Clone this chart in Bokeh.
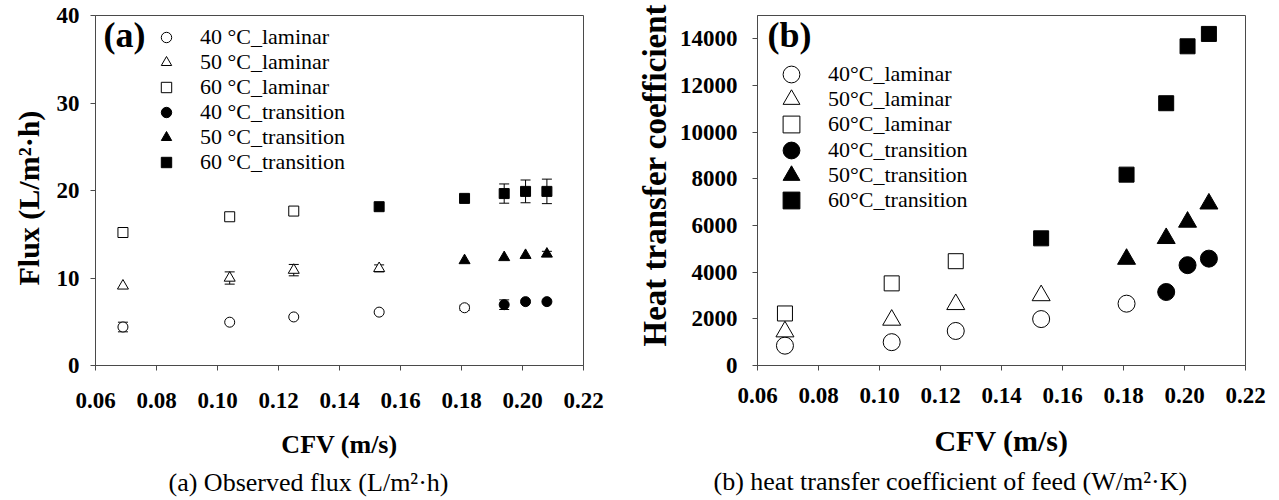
from bokeh.plotting import figure
from bokeh.models import (Range1d, FixedTicker, PrintfTickFormatter, Whisker, TeeHead,
                          ColumnDataSource, Legend, LegendItem, Label, Title)
from bokeh.layouts import row
from bokeh.embed import file_html
from bokeh.resources import INLINE

SERIF = "Liberation Serif"
AXC = "#4a4a4a"

# ---------------- data: panel (a) observed flux (L/m2 h) ----------------
a_x_40_lam = [0.069, 0.104, 0.125, 0.153, 0.181]
a_y_40_lam = [4.4, 4.95, 5.55, 6.1, 6.6]
a_e_40_lam = [0.55, 0.0, 0.0, 0.0, 0.3]

a_x_50_lam = [0.069, 0.104, 0.125, 0.153]
a_y_50_lam = [9.1, 10.0, 10.9, 11.1]
a_e_50_lam = [0.0, 0.7, 0.65, 0.4]

a_x_60_lam = [0.069, 0.104, 0.125]
a_y_60_lam = [15.2, 17.0, 17.65]
a_e_60_lam = [0.0, 0.0, 0.0]

a_x_40_tr = [0.194, 0.201, 0.208]
a_y_40_tr = [6.95, 7.3, 7.3]
a_e_40_tr = [0.55, 0.0, 0.0]

a_x_50_tr = [0.181, 0.194, 0.201, 0.208]
a_y_50_tr = [12.0, 12.35, 12.6, 12.75]
a_e_50_tr = [0.0, 0.0, 0.0, 0.3]

a_x_60_tr = [0.153, 0.181, 0.194, 0.201, 0.208]
a_y_60_tr = [18.15, 19.1, 19.65, 19.9, 19.9]
a_e_60_tr = [0.0, 0.0, 1.1, 1.3, 1.4]

# ---------------- data: panel (b) heat transfer coefficient ----------------
b_x_40_lam = [0.069, 0.104, 0.125, 0.153, 0.181]
b_y_40_lam = [850, 1000, 1480, 1990, 2650]
b_x_50_lam = [0.069, 0.104, 0.125, 0.153]
b_y_50_lam = [1450, 1950, 2620, 3000]
b_x_60_lam = [0.069, 0.104, 0.125]
b_y_60_lam = [2230, 3520, 4470]
b_x_40_tr = [0.194, 0.201, 0.208]
b_y_40_tr = [3150, 4300, 4580]
b_x_50_tr = [0.181, 0.194, 0.201, 0.208]
b_y_50_tr = [4560, 5450, 6150, 6930]
b_x_60_tr = [0.153, 0.181, 0.194, 0.201, 0.208]
b_y_60_tr = [5450, 8180, 11240, 13680, 14210]

x_ticks = [0.06, 0.08, 0.10, 0.12, 0.14, 0.16, 0.18, 0.20, 0.22]
a_y_ticks = [0, 10, 20, 30, 40]
b_y_ticks = [0, 2000, 4000, 6000, 8000, 10000, 12000, 14000]

a_labels = ["40 \u00b0C_laminar", "50 \u00b0C_laminar", "60 \u00b0C_laminar",
            "40 \u00b0C_transition", "50 \u00b0C_transition", "60 \u00b0C_transition"]
b_labels = ["40\u00b0C_laminar", "50\u00b0C_laminar", "60\u00b0C_laminar",
            "40\u00b0C_transition", "50\u00b0C_transition", "60\u00b0C_transition"]

a_ylabel = "Flux (L/m\u00b2\u00b7h)"
b_ylabel = "Heat transfer coefficient"
xlabel = "CFV (m/s)"
a_caption = "(a) Observed flux (L/m\u00b2\u00b7h)"
b_caption = "(b) heat transfer coefficient of feed (W/m\u00b2\u00b7K)"


def add_series(p, xs, ys, marker, size, filled, errs=None):
    if errs is not None:
        ex = [x for x, e in zip(xs, errs) if e > 0]
        lo = [y - e for y, e in zip(ys, errs) if e > 0]
        hi = [y + e for y, e in zip(ys, errs) if e > 0]
        if ex:
            wsrc = ColumnDataSource(dict(x=ex, lo=lo, hi=hi))
            w = Whisker(base="x", lower="lo", upper="hi", source=wsrc,
                        line_color="black", line_width=1, level="underlay",
                        upper_head=TeeHead(size=10, line_color="black", line_width=1),
                        lower_head=TeeHead(size=10, line_color="black", line_width=1))
            p.add_layout(w)
    src = ColumnDataSource(dict(x=xs, y=ys))
    return p.scatter("x", "y", source=src, marker=marker, size=size,
                     fill_color="black" if filled else "white",
                     line_color="black", line_width=1)


def add_legend_rows(p, labels, renderers, frame_h, x_off, first_center, pitch,
                    glyph, standoff, font_size):
    # one single-entry legend per row so that large symbols can sit on a tight pitch
    for i, (lab, r) in enumerate(zip(labels, renderers)):
        c = first_center + i * pitch
        lg = Legend(items=[LegendItem(label=lab, renderers=[r])],
                    location=(x_off, frame_h - (c + glyph / 2)),
                    glyph_width=glyph, glyph_height=glyph, spacing=0,
                    padding=0, margin=0, label_standoff=standoff,
                    label_text_font=SERIF, label_text_font_size=font_size,
                    label_text_color="black",
                    border_line_color=None, background_fill_alpha=0)
        p.add_layout(lg)


def side_title(p, text, side, size, bold, offset, standoff):
    p.add_layout(Title(text=text, align="left", offset=offset, standoff=standoff,
                       text_font=SERIF, text_font_style="bold" if bold else "normal",
                       text_font_size=size, text_color="black"), side)


def style(p, tick_size, xlab_size, xstand, xlabstand, ystand):
    for ax in p.axis:
        ax.major_label_text_font = SERIF
        ax.major_label_text_font_style = "bold"
        ax.major_label_text_font_size = tick_size
        ax.major_label_text_color = "black"
        ax.axis_label_text_font = SERIF
        ax.axis_label_text_font_style = "bold"
        ax.axis_label_text_color = "black"
        ax.minor_tick_line_color = None
        ax.major_tick_in = 0
        ax.major_tick_out = 5
        ax.axis_line_color = AXC
        ax.major_tick_line_color = AXC
    p.xaxis.axis_label = xlabel
    p.xaxis.axis_label_text_font_size = xlab_size
    p.xaxis.major_label_standoff = xstand
    p.xaxis.axis_label_standoff = xlabstand
    p.yaxis.major_label_standoff = ystand
    p.xaxis.ticker = FixedTicker(ticks=x_ticks)
    p.xaxis.formatter = PrintfTickFormatter(format="%.2f")
    p.xgrid.grid_line_color = None
    p.ygrid.grid_line_color = None
    p.outline_line_color = AXC
    p.outline_line_alpha = 1
    p.background_fill_color = "white"
    p.border_fill_color = "white"


# ---------------- panel (a) ----------------
# frame: x 94..583, y 15..367 (page pixels)
pa = figure(width=628, height=500, x_range=Range1d(0.06, 0.22), y_range=Range1d(0, 40),
            output_backend="svg", toolbar_location=None,
            min_border_left=94, min_border_right=45, min_border_top=15, min_border_bottom=133)
style(pa, "23px", "26px", 22, 19, 11)
pa.yaxis.ticker = FixedTicker(ticks=a_y_ticks)

ra = [
    add_series(pa, a_x_40_lam, a_y_40_lam, "circle", 10, False, a_e_40_lam),
    add_series(pa, a_x_50_lam, a_y_50_lam, "triangle", 11, False, a_e_50_lam),
    add_series(pa, a_x_60_lam, a_y_60_lam, "square", 10, False, a_e_60_lam),
    add_series(pa, a_x_40_tr, a_y_40_tr, "circle", 10, True, a_e_40_tr),
    add_series(pa, a_x_50_tr, a_y_50_tr, "triangle", 11, True, a_e_50_tr),
    add_series(pa, a_x_60_tr, a_y_60_tr, "square", 10, True, a_e_60_tr),
]
add_legend_rows(pa, a_labels, ra, 352, 58, 24.2, 25.0, 26, 21, "22px")
pa.add_layout(Label(x=8, y=331, x_units="screen", y_units="screen", text="(a)",
                    text_font=SERIF, text_font_style="bold", text_font_size="36px",
                    text_baseline="middle", text_align="left", text_color="black"))
side_title(pa, a_ylabel, "left", "30px", True, 80, 18)
side_title(pa, a_caption, "below", "26px", False, 73, 8)

# ---------------- panel (b) ----------------
# frame: x 757..1245, y 12..365 (page pixels)
pb = figure(width=643, height=500, x_range=Range1d(0.06, 0.22), y_range=Range1d(0, 15000),
            output_backend="svg", toolbar_location=None,
            min_border_left=129, min_border_right=26, min_border_top=12, min_border_bottom=135)
style(pb, "23px", "30px", 17, 18, 15)
pb.yaxis.ticker = FixedTicker(ticks=b_y_ticks)
pb.yaxis.formatter = PrintfTickFormatter(format="%d")

rb = [
    add_series(pb, b_x_40_lam, b_y_40_lam, "circle", 17, False),
    add_series(pb, b_x_50_lam, b_y_50_lam, "triangle", 18, False),
    add_series(pb, b_x_60_lam, b_y_60_lam, "square", 15, False),
    add_series(pb, b_x_40_tr, b_y_40_tr, "circle", 17, True),
    add_series(pb, b_x_50_tr, b_y_50_tr, "triangle", 18, True),
    add_series(pb, b_x_60_tr, b_y_60_tr, "square", 15, True),
]
add_legend_rows(pb, b_labels, rb, 353, 13, 62, 25.2, 42, 16, "22px")
pb.add_layout(Label(x=10, y=331, x_units="screen", y_units="screen", text="(b)",
                    text_font=SERIF, text_font_style="bold", text_font_size="36px",
                    text_baseline="middle", text_align="left", text_color="black"))
side_title(pb, b_ylabel, "left", "33px", True, 19, 8)
side_title(pb, b_caption, "below", "26px", False, -44, 10)

layout = row(pa, pb)
open("out.html", "w").write(file_html(layout, INLINE))
